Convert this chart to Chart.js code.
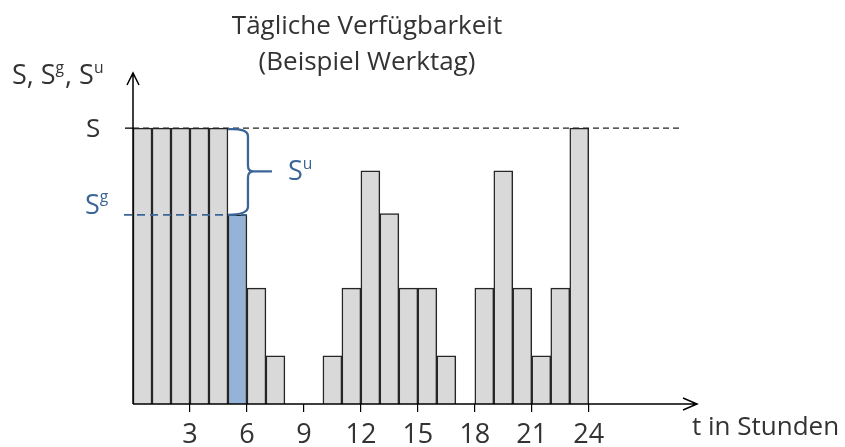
<!DOCTYPE html>
<html>
<head>
<meta charset="utf-8">
<script src="https://cdn.jsdelivr.net/npm/chart.js@4"></script>
<style>
  body { margin: 0; background: #fff; }
  #wrap { width: 845px; height: 447px; }
</style>
</head>
<body>
<div id="wrap"><canvas id="availChart" width="845" height="447"></canvas></div>
<script>
// hours of the day and available capacity per hour (S = 100)
const hours = [1, 2, 3, 4, 5, 6, 7, 8, 9, 10, 11, 12, 13, 14, 15, 16, 17, 18, 19, 20, 21, 22, 23, 24];
const availability = [100, 100, 100, 100, 100, 68.6, 42, 17.5, 0, 0, 17.5, 42, 84.5, 69, 42, 42, 17.5, 0, 42, 84.5, 42, 17.5, 42, 100];
const xTicks = [3, 6, 9, 12, 15, 18, 21, 24];
const levelS = 100;
const levelSg = 68.6;
const highlightHour = 6;

const FONT = '"Open Sans", "Noto Sans", sans-serif';
const TEXT = '#333333';
const BLUE = '#3b6597';

function drawSup(ctx, parts, x, y, size, color) {
    // parts: [text, isSuperscript]
    ctx.fillStyle = color;
    ctx.textBaseline = 'alphabetic';
    ctx.textAlign = 'left';
    let cx = x;
    parts.forEach(function(p) {
        const s = p[1] ? size * 0.58 : size;
        ctx.font = s + 'px ' + FONT;
        ctx.fillText(p[0], cx, p[1] ? y - size * 0.42 : y);
        cx += ctx.measureText(p[0]).width + (p[1] ? 1 : 0);
    });
}

const decorations = {
    id: 'decorations',
    afterDatasetsDraw(chart) {
        const ctx = chart.ctx;
        const x = chart.scales.x;
        const y = chart.scales.y;
        const area = chart.chartArea;
        const x0 = x.getPixelForValue(0);
        const y0 = y.getPixelForValue(0);
        const yS = y.getPixelForValue(levelS);
        const ySg = y.getPixelForValue(levelSg);
        ctx.save();

        // S reference line
        ctx.strokeStyle = '#222';
        ctx.lineWidth = 1.3;
        ctx.setLineDash([6, 4]);
        ctx.beginPath();
        ctx.moveTo(x0, yS);
        ctx.lineTo(x.getPixelForValue(28.9), yS);
        ctx.stroke();
        ctx.setLineDash([]);
        ctx.lineWidth = 1.5;
        ctx.beginPath();
        ctx.moveTo(x0 - 8, yS);
        ctx.lineTo(x0, yS);
        ctx.stroke();

        // Sg reference line
        ctx.strokeStyle = BLUE;
        ctx.lineWidth = 1.8;
        ctx.setLineDash([8, 5]);
        ctx.beginPath();
        ctx.moveTo(x0 - 9, ySg);
        ctx.lineTo(x.getPixelForValue(highlightHour), ySg);
        ctx.stroke();
        ctx.setLineDash([]);

        // brace for Su
        const bx = x.getPixelForValue(highlightHour - 1);
        const vx = bx + 20;
        const mid = (yS + ySg) / 2;
        ctx.lineWidth = 2.3;
        ctx.beginPath();
        ctx.moveTo(bx, yS + 1);
        ctx.quadraticCurveTo(vx, yS, vx, yS + 8);
        ctx.lineTo(vx, mid - 6);
        ctx.quadraticCurveTo(vx, mid, vx + 6, mid);
        ctx.lineTo(vx + 24, mid);
        ctx.moveTo(vx + 6, mid);
        ctx.quadraticCurveTo(vx, mid, vx, mid + 6);
        ctx.lineTo(vx, ySg - 8);
        ctx.quadraticCurveTo(vx, ySg, bx, ySg);
        ctx.stroke();

        // axes with arrows
        ctx.strokeStyle = '#000';
        ctx.lineWidth = 1.5;
        ctx.beginPath();
        ctx.moveTo(x0, y0);
        ctx.lineTo(x0, area.top);
        ctx.moveTo(x0 - 6, area.top + 12);
        ctx.lineTo(x0, area.top);
        ctx.lineTo(x0 + 6, area.top + 12);
        ctx.moveTo(x0, y0);
        ctx.lineTo(area.right, y0);
        ctx.moveTo(area.right - 14, y0 - 6);
        ctx.lineTo(area.right, y0);
        ctx.lineTo(area.right - 14, y0 + 6);
        ctx.stroke();

        // labels
        drawSup(ctx, [['S', false]], 86, yS + 9, 26, TEXT);
        drawSup(ctx, [['S', false], ['g', true]], 85, ySg - 1, 27, BLUE);
        drawSup(ctx, [['S', false], ['u', true]], 288, mid + 9, 27, BLUE);
        drawSup(ctx, [['S, S', false], ['g', true], [', S', false], ['u', true]], 12, 84, 27, TEXT);
        ctx.font = '26px ' + FONT;
        ctx.fillStyle = TEXT;
        ctx.textAlign = 'left';
        ctx.fillText('t in Stunden', 692, 435);
        ctx.textAlign = 'center';
        ctx.fillText('Tägliche Verfügbarkeit', 367, 34);
        ctx.fillText('(Beispiel Werktag)', 367, 70);
        ctx.restore();
    }
};

const ctx = document.getElementById('availChart').getContext('2d');
const availChart = new Chart(ctx, {
    type: 'bar',
    data: {
        datasets: [{
            data: hours.map(function(h, i) { return { x: h - 0.5, y: availability[i] }; }),
            backgroundColor: hours.map(function(h) { return h === highlightHour ? '#95b3d7' : '#d9d9d9'; }),
            borderColor: '#262626',
            borderWidth: 1.5,
            barPercentage: 1,
            categoryPercentage: 1
        }]
    },
    options: {
        responsive: false,
        animation: false,
        events: [],
        layout: { padding: { left: 133, right: 148, top: 73, bottom: 0 } },
        plugins: { legend: { display: false }, title: { display: false }, tooltip: { enabled: false } },
        scales: {
            x: {
                type: 'linear',
                offset: false,
                min: 0,
                max: 29.7,
                afterBuildTicks: function(scale) {
                    scale.ticks = xTicks.map(function(v) { return { value: v }; });
                },
                afterFit: function(scale) { scale.height = 43; },
                grid: { offset: false, drawOnChartArea: false, drawTicks: true, tickLength: 8, color: '#000', lineWidth: 1.2 },
                border: { display: false },
                ticks: { font: { family: FONT, size: 27 }, color: TEXT, padding: 7, maxRotation: 0 }
            },
            y: {
                display: false,
                min: 0,
                max: 120
            }
        }
    },
    plugins: [decorations]
});
</script>
</body>
</html>
